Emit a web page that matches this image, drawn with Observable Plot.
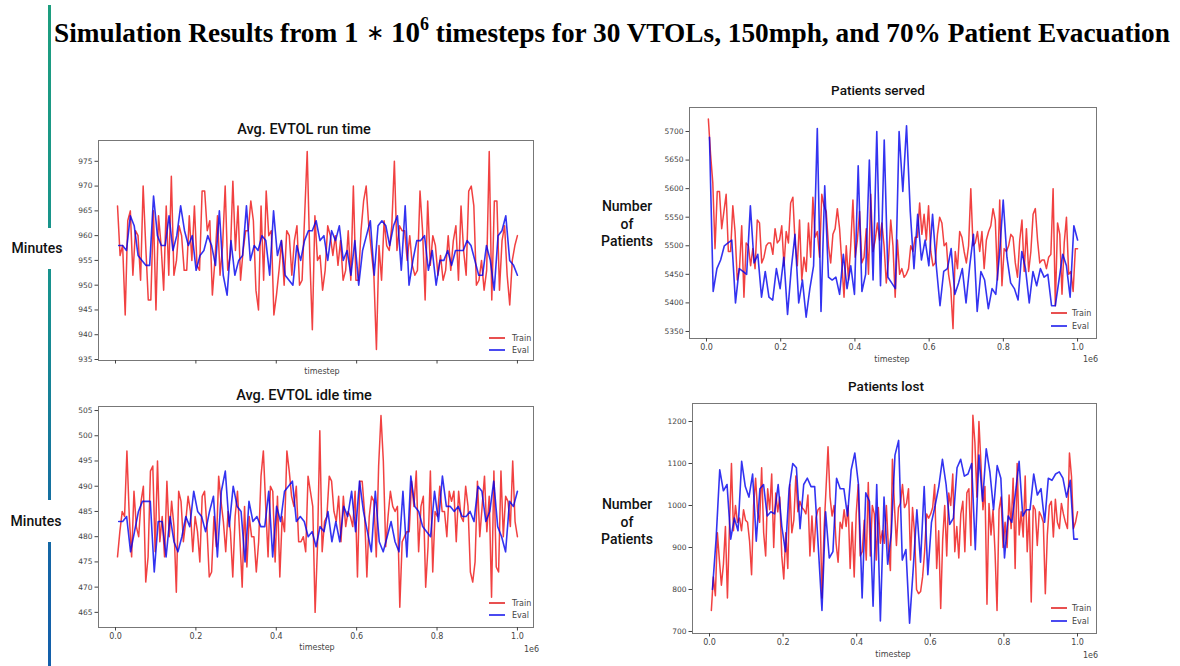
<!DOCTYPE html>
<html><head><meta charset="utf-8">
<script src="https://cdn.jsdelivr.net/npm/d3@7"></script>
<script src="https://cdn.jsdelivr.net/npm/@observablehq/plot@0.6"></script>
<style>
body{margin:0;background:#fff;}
#root{position:relative;width:1180px;height:666px;overflow:hidden;background:#fff;font-family:"Liberation Sans",Arial,sans-serif;}
.abs{position:absolute;white-space:nowrap;}
.ptitle{font-family:Roboto,"Liberation Sans",Arial,sans-serif;font-weight:500;color:#111;transform:translate(-50%,-50%);}
.side{font-family:Roboto,"Liberation Sans",sans-serif;font-weight:500;font-size:14px;color:#111;text-align:center;line-height:17.5px;transform:translate(-50%,-50%);}
.small{font-family:"DejaVu Sans",sans-serif;font-size:8px;color:#444;}
.leg{font-family:"DejaVu Sans",sans-serif;font-size:8px;color:#444;transform:translateY(-50%);}
.legline{height:2px;width:16px;transform:translateY(-50%);}
</style></head><body><div id="root"></div><script>
// ---------- data ----------
const xTicks = [0, 200000, 400000, 600000, 800000, 1000000];
const runTicks = [935, 940, 945, 950, 955, 960, 965, 970, 975];
const idleTicks = [465, 470, 475, 480, 485, 490, 495, 500, 505];
const servedTicks = [5350, 5400, 5450, 5500, 5550, 5600, 5650, 5700];
const lostTicks = [700, 800, 900, 1000, 1100, 1200];
const trainFirst = 5000, trainLast = 1000000;
const evalFirst = 8000, evalLast = 1000000;

const runTrain = [966,956,958,944,963,965,952,961,960,951,970,958,947,947,965,945,964,958,949,966,952,972,952,955,962,960,953,953,964,955,966,954,953,969,969,961,963,948,955,964,952,958,970,953,956,971,957,966,951,957,961,961,967,963,949,945,966,951,969,960,961,944,948,953,959,950,961,960,952,959,962,950,951,964,977,956,941,964,955,956,949,953,962,960,956,960,954,959,951,953,961,951,970,951,951,961,967,970,962,957,952,937,958,951,963,958,957,962,975,957,962,961,961,955,960,954,952,953,969,961,947,967,954,960,958,952,956,951,953,960,953,959,962,951,966,957,952,969,970,966,950,951,955,949,953,977,947,967,967,949,959,962,952,946,955,958,960];
const runEval = [958,958,957,964,962,956,955,954,954,968,960,958,958,964,957,960,966,961,958,960,953,956,957,960,958,954,965,952,948,959,952,955,956,966,955,958,957,960,959,952,965,956,959,952,951,950,958,955,959,961,961,963,959,960,955,961,959,962,955,957,952,959,950,957,960,963,952,962,963,962,958,962,964,953,966,950,955,959,959,960,953,957,950,955,955,957,954,957,957,957,959,958,955,952,952,958,955,949,960,961,964,955,954,952];
const idleTrain = [476,481,485,484,497,484,476,489,482,480,487,490,471,476,493,494,477,495,479,484,476,491,480,487,482,469,489,487,479,483,488,485,477,484,481,475,488,489,482,472,473,484,478,492,487,483,477,485,481,472,484,489,480,470,486,474,484,480,480,473,479,492,497,486,476,490,489,475,488,472,484,481,497,493,488,486,490,479,479,480,477,492,489,486,465,478,501,477,483,484,492,491,485,483,488,479,488,482,485,484,482,489,472,491,491,485,472,484,488,487,476,494,504,495,478,484,489,486,485,486,466,479,480,481,481,491,486,493,477,486,488,470,478,493,473,485,484,490,485,485,480,489,487,489,479,489,484,483,490,486,473,471,475,491,480,486,492,481,488,468,493,474,473,493,480,488,487,482,495,483,480];
const idleEval = [483,483,484,477,481,485,487,487,487,473,483,483,476,484,479,477,480,484,482,489,485,484,481,485,488,476,489,493,482,490,486,485,475,487,483,484,482,482,489,476,486,483,489,490,491,483,484,483,480,481,478,482,481,485,479,483,479,486,484,489,481,491,485,481,477,489,479,477,480,483,479,477,489,476,492,486,485,482,481,480,489,483,492,486,486,485,486,484,484,485,483,490,489,483,485,491,482,480,477,487,486,489];
const servedTrain = [5722,5660,5610,5495,5595,5595,5530,5560,5590,5490,5490,5570,5525,5440,5460,5535,5410,5505,5500,5465,5495,5460,5545,5540,5470,5480,5500,5505,5505,5485,5530,5505,5510,5535,5465,5525,5505,5575,5585,5505,5465,5545,5440,5480,5455,5540,5480,5585,5515,5525,5480,5590,5570,5560,5500,5470,5520,5530,5565,5530,5470,5410,5500,5440,5500,5580,5480,5510,5560,5470,5480,5530,5450,5590,5490,5510,5540,5510,5540,5500,5435,5475,5545,5500,5410,5510,5450,5460,5445,5450,5460,5500,5490,5515,5515,5575,5520,5555,5510,5570,5490,5465,5470,5520,5550,5540,5500,5505,5450,5425,5355,5490,5460,5525,5515,5490,5470,5500,5600,5500,5505,5525,5490,5525,5460,5510,5525,5535,5565,5545,5440,5580,5430,5495,5490,5500,5520,5515,5470,5445,5510,5545,5455,5530,5455,5490,5555,5565,5510,5470,5475,5475,5460,5480,5485,5600,5395,5540,5520,5415,5505,5550,5450,5455,5420,5495,5495];
const servedEval = [5690,5420,5460,5475,5500,5505,5510,5400,5460,5455,5450,5570,5470,5485,5410,5455,5410,5405,5460,5425,5480,5380,5460,5520,5400,5440,5375,5425,5465,5705,5385,5605,5445,5440,5445,5415,5485,5425,5465,5415,5640,5420,5450,5650,5440,5700,5430,5685,5445,5435,5425,5700,5595,5710,5560,5460,5555,5475,5510,5465,5555,5465,5395,5455,5460,5495,5415,5435,5460,5400,5465,5520,5385,5455,5440,5390,5425,5415,5485,5580,5480,5435,5425,5405,5490,5460,5400,5455,5430,5460,5445,5450,5395,5395,5440,5485,5465,5410,5535,5510];
const lostTrain = [750,830,785,935,870,810,860,950,780,950,1100,940,1000,960,970,940,990,965,960,915,835,1000,1065,985,960,1090,935,880,1040,990,1075,900,1030,985,1020,880,825,935,850,1050,935,965,1070,985,1010,995,990,980,1025,880,975,890,970,990,995,780,940,1040,1140,1020,975,1000,910,865,960,945,990,950,1000,850,960,830,980,1050,880,890,965,870,1055,880,1000,980,870,995,910,940,910,1000,900,845,1110,1000,905,995,1005,1050,995,1005,1040,870,995,935,800,790,795,830,890,980,970,980,995,1050,850,940,755,920,1000,880,1030,1000,1075,890,950,875,980,1010,890,1030,1040,905,1215,1150,1020,1200,1100,990,1045,765,1005,930,990,890,750,990,1020,900,960,900,1025,945,1065,850,1100,930,985,925,1070,890,990,770,1000,990,905,985,975,960,790,930,1000,1010,925,1015,960,945,1005,980,960,945,1125,1070,945,960,985];
const lostEval = [800,920,1085,1035,1050,920,970,940,1105,1045,1020,1075,915,1040,1050,975,985,980,1050,950,890,1040,1100,1090,945,1050,1065,1045,1045,900,750,985,875,890,1065,1040,1040,975,1085,1125,1050,780,1030,1010,760,1050,725,1020,860,935,1120,1155,870,895,720,850,990,865,1045,835,960,1000,1045,1110,1050,955,970,1090,1110,1070,1075,1100,895,1120,1010,1135,1080,990,1095,1065,875,975,960,1030,1105,975,990,990,1075,1025,1040,960,1065,1060,1075,1080,1065,1020,1060,920,920];

// ---------- helpers ----------
const root = document.getElementById("root");
function spread(values, first, last) {
  const n = values.length;
  return values.map((v, i) => ({t: first + (last - first) * i / (n - 1), v}));
}
function addDiv(cls, left, top, html, extra) {
  const d = document.createElement("div");
  d.className = "abs " + cls;
  d.style.left = left + "px";
  d.style.top = top + "px";
  d.innerHTML = html;
  if (extra) Object.assign(d.style, extra);
  root.appendChild(d);
  return d;
}

// vertical accent bar
const barSegs = [[5, 228], [269, 500], [542, 666]];
for (const [a, b] of barSegs) {
  addDiv("", 48, a, "", {width: "3px", height: (b - a) + "px",
    background: "linear-gradient(to bottom,#1d9e7e 0px,#17918f 300px,#1465a6 560px,#135fab 666px)",
    backgroundSize: "3px 666px", backgroundPosition: "0 " + (-a) + "px"});
}

// main title
addDiv("", 612, 32, 'Simulation Results from <span style="font-size:29px">1 <span style="font-weight:normal;font-size:22px;position:relative;top:-2px">∗</span> 10<sup style="font-size:18px;vertical-align:12px;line-height:0">6</sup></span> timesteps for 30 VTOLs, 150mph, and 70% Patient Evacuation',
  {fontFamily: '"Liberation Serif","Times New Roman",serif', fontWeight: "bold", fontSize: "27.3px", color: "#000", transform: "translate(-50%,-50%)"});

// panel factory
function panel(cfg) {
  const fmt = d => (d / 1e6).toFixed(1);
  const chart = Plot.plot({
    width: cfg.svg[2] - cfg.svg[0], height: cfg.svg[3] - cfg.svg[1],
    marginLeft: cfg.frame[0] - cfg.svg[0], marginRight: cfg.svg[2] - cfg.frame[2],
    marginTop: cfg.frame[1] - cfg.svg[1], marginBottom: cfg.svg[3] - cfg.frame[3],
    x: {domain: cfg.xDomain},
    y: {domain: cfg.yDomain},
    style: {fontFamily: '"DejaVu Sans",sans-serif', fontSize: "7.5px", color: "#444", background: "transparent", overflow: "visible"},
    marks: [
      Plot.frame({stroke: "#777", strokeWidth: 1}),
      Plot.axisY(cfg.yTicks, {tickSize: 3.5, tickPadding: 2.5, label: null, fontSize: 7.5, tickFormat: d => String(d)}),
      Plot.axisX(xTicks, {tickSize: 3.5, tickPadding: 2.5, label: null, fontSize: 8, tickFormat: cfg.xLabels ? fmt : () => ""}),
      Plot.line(spread(cfg.train, trainFirst, trainLast), {x: "t", y: "v", stroke: "#ee1111", strokeOpacity: 0.8, strokeWidth: 1.5}),
      Plot.line(spread(cfg.eval, evalFirst, evalLast), {x: "t", y: "v", stroke: "#0000ee", strokeOpacity: 0.8, strokeWidth: 1.6})
    ]
  });
  chart.style.position = "absolute";
  chart.style.left = cfg.svg[0] + "px";
  chart.style.top = cfg.svg[1] + "px";
  root.appendChild(chart);
  addDiv("ptitle", cfg.titlePos[0], cfg.titlePos[1], cfg.title, {fontSize: cfg.titleSize + "px"});
  addDiv("small", cfg.tsPos[0], cfg.tsPos[1], "timestep", {transform: "translate(-50%,-50%)"});
  if (cfg.e6Pos) addDiv("small", cfg.e6Pos[0], cfg.e6Pos[1], "1e6", {transform: "translateY(-50%)"});
  const [lx, ly1, ly2, tx] = cfg.leg;
  addDiv("legline", lx, ly1, "", {background: "#e85050"});
  addDiv("legline", lx, ly2, "", {background: "#4a4af0"});
  addDiv("leg", tx, ly1, "Train");
  addDiv("leg", tx, ly2, "Eval");
}

panel({title: "Avg. EVTOL run time", titleSize: 14.5, titlePos: [304, 129],
  svg: [60, 136, 540, 368], frame: [98, 140, 533, 360],
  xDomain: [-42300, 1040000], yDomain: [934.8, 979.2], yTicks: runTicks, xLabels: false,
  train: runTrain, eval: runEval, tsPos: [322, 371], e6Pos: null, leg: [489, 338, 350, 512]});
panel({title: "Avg. EVTOL idle time", titleSize: 14.5, titlePos: [304, 395],
  svg: [60, 402, 540, 645], frame: [98, 406, 533, 627],
  xDomain: [-42300, 1040000], yDomain: [462.0, 505.8], yTicks: idleTicks, xLabels: true,
  train: idleTrain, eval: idleEval, tsPos: [317, 647], e6Pos: [524, 649], leg: [489, 603, 615, 512]});
panel({title: "Patients served", titleSize: 13.5, titlePos: [878, 90],
  svg: [650, 103, 1100, 352], frame: [689, 107, 1096, 338],
  xDomain: [-45800, 1051000], yDomain: [5337.7, 5742], yTicks: servedTicks, xLabels: true,
  train: servedTrain, eval: servedEval, tsPos: [892, 359], e6Pos: [1083, 359], leg: [1051, 313, 326, 1072]});
panel({title: "Patients lost", titleSize: 13.5, titlePos: [886, 386],
  svg: [650, 399, 1100, 648], frame: [692, 403, 1096, 633],
  xDomain: [-46200, 1051600], yDomain: [695.2, 1242.9], yTicks: lostTicks, xLabels: true,
  train: lostTrain, eval: lostEval, tsPos: [893, 654], e6Pos: [1083, 655], leg: [1051, 608, 621, 1072]});

// side labels
addDiv("side", 37, 249, "Minutes");
addDiv("side", 36, 522, "Minutes");
addDiv("side", 627, 224, "Number<br>of<br>Patients");
addDiv("side", 627, 522, "Number<br>of<br>Patients");
</script></body></html>
